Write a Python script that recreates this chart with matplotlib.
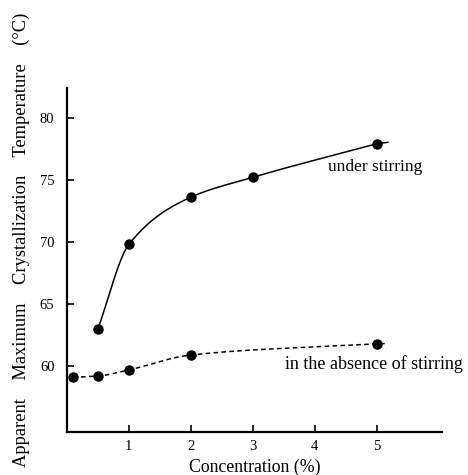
import numpy as np
import matplotlib
matplotlib.use('Agg')
import matplotlib.pyplot as plt

plt.rcParams['font.family'] = ['Liberation Serif', 'DejaVu Serif']

# under stirring
conc_stir = [0.5, 1, 2, 3, 5]
temp_stir = [63.0, 69.8, 73.6, 75.2, 77.9]

# in the absence of stirring
conc_still = [0.1, 0.5, 1, 2, 5]
temp_still = [59.1, 59.2, 59.7, 60.9, 61.8]

x_ticks = [1, 2, 3, 4, 5]
y_ticks = [60, 65, 70, 75, 80]


def SmoothCurve(x, y, tail=0.18, num=200):
    # monotone cubic (pchip) through the points, short straight tail at the end
    x = np.asarray(x, float)
    y = np.asarray(y, float)
    h = np.diff(x)
    d = np.diff(y) / h
    n = len(x)
    m = np.zeros(n)
    m[0] = d[0]
    m[-1] = d[-1]
    for k in range(1, n - 1):
        if d[k - 1] * d[k] > 0:
            w1 = 2 * h[k] + h[k - 1]
            w2 = h[k] + 2 * h[k - 1]
            m[k] = (w1 + w2) / (w1 / d[k - 1] + w2 / d[k])
    xs = np.linspace(x[0], x[-1], num)
    idx = np.clip(np.searchsorted(x, xs) - 1, 0, n - 2)
    t = (xs - x[idx]) / h[idx]
    h00 = 2 * t ** 3 - 3 * t ** 2 + 1
    h10 = t ** 3 - 2 * t ** 2 + t
    h01 = -2 * t ** 3 + 3 * t ** 2
    h11 = t ** 3 - t ** 2
    ys = h00 * y[idx] + h10 * h[idx] * m[idx] + h01 * y[idx + 1] + h11 * h[idx] * m[idx + 1]
    xs = np.append(xs, x[-1] + tail)
    ys = np.append(ys, y[-1] + tail * m[-1] * 0.5)
    return xs, ys


fig = plt.figure(figsize=(4.68, 4.75), dpi=100)
ax = fig.add_axes([0.143, 0.0905, 0.801, 0.7245])

xs, ys = SmoothCurve(conc_stir, temp_stir)
ax.plot(xs, ys, color='black', lw=1.1)
ax.plot(conc_stir, temp_stir, 'o', color='black', ms=6.5)

xs, ys = SmoothCurve(conc_still, temp_still, tail=0.15)
ax.plot(xs, ys, color='black', lw=1.1, linestyle=(0, (3, 2.2)))
ax.plot(conc_still, temp_still, 'o', color='black', ms=6.5)

ax.text(4.21, 76.0, 'under stirring', fontsize=12.5, va='center', ha='left')
ax.text(3.52, 60.2, 'in the absence of stirring', fontsize=13, va='center', ha='left')

ax.set_xlim(0, 6.05)
ax.set_ylim(54.7, 82.4)
ax.set_xticks(x_ticks)
ax.set_yticks(y_ticks)
ax.tick_params(direction='in', length=5, width=1.2, labelsize=10.5, pad=9)
ax.tick_params(axis='x', pad=6)

for side in ['top', 'right']:
    ax.spines[side].set_visible(False)
for side in ['left', 'bottom']:
    ax.spines[side].set_linewidth(1.6)

ax.set_xlabel('Concentration (%)', fontsize=12.8, labelpad=4)
fig.text(0.045, 0.495, 'Apparent    Maximum    Crystallization    Temperature    (°C)',
         rotation=90, fontsize=13.3, ha='center', va='center')

fig.savefig('out.png', dpi=100)
